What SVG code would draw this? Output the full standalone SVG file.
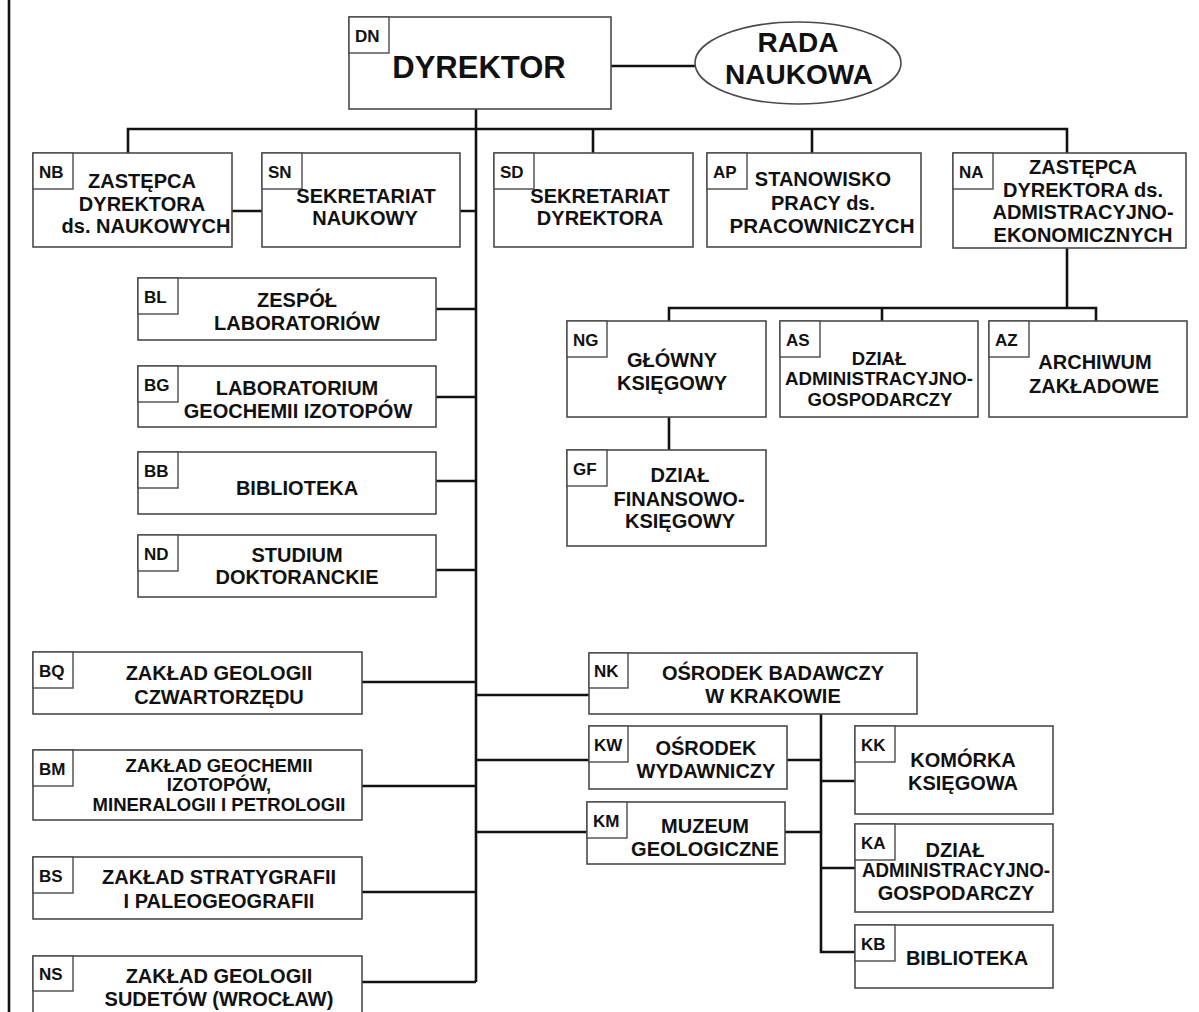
<svg xmlns="http://www.w3.org/2000/svg" width="1199" height="1012" viewBox="0 0 1199 1012">
<style>
.box{fill:#fff;stroke:#4a4a4a;stroke-width:1.6}
.code{fill:#fff;stroke:#4a4a4a;stroke-width:1.4}
.ln{fill:none;stroke:#111;stroke-width:2.6}
text{font-family:"Liberation Sans",Arial,sans-serif;font-weight:bold;fill:#111}
.c{font-size:17px}
.t{font-size:20px;text-anchor:middle}
.s{font-size:18.5px;text-anchor:middle}
</style>
<rect x="0" y="0" width="1199" height="1012" fill="#fff"/>
<g id="connectors">
<line class="ln" x1="9" y1="0" x2="9" y2="1012"/>
<path class="ln" d="M611 66H695"/>
<path class="ln" d="M476 109V982"/>
<path class="ln" d="M128 153V129H1067V153"/>
<path class="ln" d="M593 129V153M812 129V153"/>
<path class="ln" d="M232 211H262M460 211H476"/>
<path class="ln" d="M436 309H476M436 397H476M436 481H476M436 570H476"/>
<path class="ln" d="M362 682H476M362 786H476M362 892H476M362 982H476"/>
<path class="ln" d="M476 695H589M476 760H589M476 832H587"/>
<path class="ln" d="M1067 248V308M669 321V308H1096V321M882 308V321"/>
<path class="ln" d="M669 417V450"/>
<path class="ln" d="M821 714V952H855M787 760H821M785 832H821M821 781H855M821 868H855"/>
</g>
<g id="DN">
<rect class="box" x="349" y="17" width="262" height="92"/>
<rect class="code" x="349" y="17" width="40" height="36"/>
<text class="c" x="355" y="42">DN</text>
<text x="479" y="78" style="font-size:31px;text-anchor:middle">DYREKTOR</text>
</g>
<g id="RADA">
<ellipse cx="798" cy="63" rx="103" ry="41" fill="#fff" stroke="#4a4a4a" stroke-width="1.6"/>
<text x="798" y="52" style="font-size:28px;text-anchor:middle">RADA</text>
<text x="799" y="84" style="font-size:28px;text-anchor:middle">NAUKOWA</text>
</g>
<g id="NB">
<rect class="box" x="33" y="153" width="199" height="94"/>
<rect class="code" x="33" y="153" width="40" height="36"/>
<text class="c" x="39" y="178">NB</text>
<text class="t" x="142" y="188">ZASTĘPCA</text>
<text class="t" x="142" y="211">DYREKTORA</text>
<text class="t" x="146" y="233">ds. NAUKOWYCH</text>
</g>
<g id="SN">
<rect class="box" x="262" y="153" width="198" height="94"/>
<rect class="code" x="262" y="153" width="40" height="36"/>
<text class="c" x="268" y="178">SN</text>
<text class="t" x="366" y="203">SEKRETARIAT</text>
<text class="t" x="365" y="225">NAUKOWY</text>
</g>
<g id="SD">
<rect class="box" x="494" y="153" width="199" height="94"/>
<rect class="code" x="494" y="153" width="40" height="36"/>
<text class="c" x="500" y="178">SD</text>
<text class="t" x="600" y="203">SEKRETARIAT</text>
<text class="t" x="600" y="225">DYREKTORA</text>
</g>
<g id="AP">
<rect class="box" x="707" y="153" width="214" height="94"/>
<rect class="code" x="707" y="153" width="40" height="36"/>
<text class="c" x="713" y="178">AP</text>
<text class="t" x="823" y="186">STANOWISKO</text>
<text class="t" x="823" y="210">PRACY ds.</text>
<text class="t" x="822" y="233" textLength="185" lengthAdjust="spacingAndGlyphs">PRACOWNICZYCH</text>
</g>
<g id="NA">
<rect class="box" x="953" y="153" width="233" height="95"/>
<rect class="code" x="953" y="153" width="40" height="36"/>
<text class="c" x="959" y="178">NA</text>
<text class="t" x="1083" y="174">ZASTĘPCA</text>
<text class="t" x="1083" y="197">DYREKTORA ds.</text>
<text class="t" x="1083" y="219">ADMISTRACYJNO-</text>
<text class="t" x="1083" y="242">EKONOMICZNYCH</text>
</g>
<g id="BL">
<rect class="box" x="138" y="278" width="298" height="62"/>
<rect class="code" x="138" y="278" width="40" height="36"/>
<text class="c" x="144" y="303">BL</text>
<text class="t" x="297" y="307">ZESPÓŁ</text>
<text class="t" x="297" y="330">LABORATORIÓW</text>
</g>
<g id="BG">
<rect class="box" x="138" y="366" width="298" height="61"/>
<rect class="code" x="138" y="366" width="40" height="36"/>
<text class="c" x="144" y="391">BG</text>
<text class="t" x="297" y="395">LABORATORIUM</text>
<text class="t" x="298" y="418">GEOCHEMII IZOTOPÓW</text>
</g>
<g id="BB">
<rect class="box" x="138" y="452" width="298" height="62"/>
<rect class="code" x="138" y="452" width="40" height="36"/>
<text class="c" x="144" y="477">BB</text>
<text class="t" x="297" y="495">BIBLIOTEKA</text>
</g>
<g id="ND">
<rect class="box" x="138" y="535" width="298" height="62"/>
<rect class="code" x="138" y="535" width="40" height="36"/>
<text class="c" x="144" y="560">ND</text>
<text class="t" x="297" y="562">STUDIUM</text>
<text class="t" x="297" y="584">DOKTORANCKIE</text>
</g>
<g id="NG">
<rect class="box" x="567" y="321" width="199" height="96"/>
<rect class="code" x="567" y="321" width="40" height="36"/>
<text class="c" x="573" y="346">NG</text>
<text class="t" x="672" y="367">GŁÓWNY</text>
<text class="t" x="672" y="390">KSIĘGOWY</text>
</g>
<g id="AS">
<rect class="box" x="780" y="321" width="198" height="96"/>
<rect class="code" x="780" y="321" width="40" height="36"/>
<text class="c" x="786" y="346">AS</text>
<text class="s" x="879" y="365">DZIAŁ</text>
<text class="s" x="879" y="385" textLength="188" lengthAdjust="spacingAndGlyphs">ADMINISTRACYJNO-</text>
<text class="s" x="880" y="406">GOSPODARCZY</text>
</g>
<g id="AZ">
<rect class="box" x="989" y="321" width="198" height="96"/>
<rect class="code" x="989" y="321" width="40" height="36"/>
<text class="c" x="995" y="346">AZ</text>
<text class="t" x="1095" y="369">ARCHIWUM</text>
<text class="t" x="1094" y="393">ZAKŁADOWE</text>
</g>
<g id="GF">
<rect class="box" x="567" y="450" width="199" height="96"/>
<rect class="code" x="567" y="450" width="40" height="36"/>
<text class="c" x="573" y="475">GF</text>
<text class="t" x="680" y="482">DZIAŁ</text>
<text class="t" x="679" y="506">FINANSOWO-</text>
<text class="t" x="680" y="528">KSIĘGOWY</text>
</g>
<g id="BQ">
<rect class="box" x="33" y="652" width="329" height="62"/>
<rect class="code" x="33" y="652" width="40" height="36"/>
<text class="c" x="39" y="677">BQ</text>
<text class="t" x="219" y="680">ZAKŁAD GEOLOGII</text>
<text class="t" x="219" y="704">CZWARTORZĘDU</text>
</g>
<g id="BM">
<rect class="box" x="33" y="750" width="329" height="70"/>
<rect class="code" x="33" y="750" width="40" height="36"/>
<text class="c" x="39" y="775">BM</text>
<text class="s" x="219" y="772">ZAKŁAD GEOCHEMII</text>
<text class="s" x="219" y="791">IZOTOPÓW,</text>
<text class="s" x="219" y="811">MINERALOGII I PETROLOGII</text>
</g>
<g id="BS">
<rect class="box" x="33" y="857" width="329" height="62"/>
<rect class="code" x="33" y="857" width="40" height="36"/>
<text class="c" x="39" y="882">BS</text>
<text class="t" x="219" y="884">ZAKŁAD STRATYGRAFII</text>
<text class="t" x="219" y="908">I PALEOGEOGRAFII</text>
</g>
<g id="NS">
<rect class="box" x="33" y="956" width="329" height="70"/>
<rect class="code" x="33" y="956" width="40" height="35"/>
<text class="c" x="39" y="980">NS</text>
<text class="t" x="219" y="983">ZAKŁAD GEOLOGII</text>
<text class="t" x="219" y="1006">SUDETÓW (WROCŁAW)</text>
</g>
<g id="NK">
<rect class="box" x="589" y="653" width="328" height="61"/>
<rect class="code" x="589" y="653" width="39" height="35"/>
<text class="c" x="594" y="677">NK</text>
<text class="t" x="773" y="680">OŚRODEK BADAWCZY</text>
<text class="t" x="773" y="703">W KRAKOWIE</text>
</g>
<g id="KW">
<rect class="box" x="589" y="726" width="198" height="63"/>
<rect class="code" x="589" y="726" width="39" height="36"/>
<text class="c" x="594" y="751">KW</text>
<text class="t" x="706" y="755">OŚRODEK</text>
<text class="t" x="706" y="778">WYDAWNICZY</text>
</g>
<g id="KM">
<rect class="box" x="587" y="802" width="198" height="62"/>
<rect class="code" x="587" y="802" width="40" height="36"/>
<text class="c" x="593" y="827">KM</text>
<text class="t" x="705" y="833">MUZEUM</text>
<text class="t" x="705" y="856">GEOLOGICZNE</text>
</g>
<g id="KK">
<rect class="box" x="855" y="726" width="198" height="88"/>
<rect class="code" x="855" y="726" width="40" height="36"/>
<text class="c" x="861" y="751">KK</text>
<text class="t" x="963" y="767">KOMÓRKA</text>
<text class="t" x="963" y="790">KSIĘGOWA</text>
</g>
<g id="KA">
<rect class="box" x="855" y="824" width="198" height="88"/>
<rect class="code" x="855" y="824" width="40" height="36"/>
<text class="c" x="861" y="849">KA</text>
<text class="t" x="955" y="857">DZIAŁ</text>
<text class="t" x="956" y="877" textLength="188" lengthAdjust="spacingAndGlyphs">ADMINISTRACYJNO-</text>
<text class="t" x="956" y="900">GOSPODARCZY</text>
</g>
<g id="KB">
<rect class="box" x="855" y="925" width="198" height="63"/>
<rect class="code" x="855" y="925" width="40" height="36"/>
<text class="c" x="861" y="950">KB</text>
<text class="t" x="967" y="965">BIBLIOTEKA</text>
</g>
</svg>
